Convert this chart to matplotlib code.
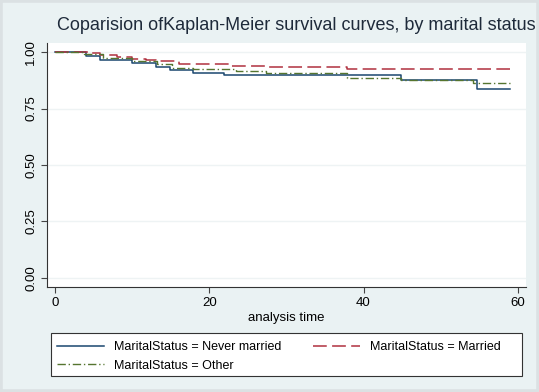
import matplotlib
matplotlib.use("Agg")
import matplotlib.pyplot as plt
from matplotlib.patches import Rectangle

# Kaplan-Meier step curves (time, survival)
never_t = [0, 3.9, 5.8, 9.9, 13.0, 14.9, 17.9, 21.9, 44.9, 54.8, 59.0]
never_s = [1.000, 0.982, 0.965, 0.950, 0.935, 0.920, 0.906, 0.897, 0.876, 0.835, 0.835]

married_t = [0, 4.3, 5.8, 8.0, 9.9, 11.8, 13.0, 16.0, 22.7, 27.4, 37.8, 59.0]
married_s = [1.000, 0.994, 0.986, 0.978, 0.971, 0.965, 0.960, 0.946, 0.938, 0.932, 0.926, 0.926]

other_t = [0, 3.7, 6.2, 9.9, 13.2, 15.1, 17.9, 23.5, 27.4, 37.8, 44.9, 54.2, 59.0]
other_s = [1.000, 0.990, 0.975, 0.960, 0.945, 0.931, 0.926, 0.916, 0.909, 0.886, 0.876, 0.864, 0.864]

x_ticks = [0, 20, 40, 60]
y_ticks = [0.00, 0.25, 0.50, 0.75, 1.00]

W, H = 539, 392
fig = plt.figure(figsize=(W / 100, H / 100), dpi=100, facecolor="#eaf2f3")
plt.rcParams["font.family"] = ["Liberation Sans", "DejaVu Sans"]

# faint screenshot frame
fig.patches.append(Rectangle((0, 0), 1, 1, transform=fig.transFigure,
                             fill=False, edgecolor="#dbe1e3", lw=4, zorder=0))

ax = fig.add_axes([47 / W, 1 - 287 / H, (526 - 47) / W, (287 - 43) / H])
ax.set_facecolor("white")

ax.step(never_t, never_s, where="post", color="#1a476f", lw=1.1,
        label="MaritalStatus = Never married")
ax.step(married_t, married_s, where="post", color="#b0303f", lw=1.1,
        dashes=(9, 3.5), label="MaritalStatus = Married")
ax.step(other_t, other_s, where="post", color="#55752f", lw=1.0,
        dashes=(6, 2, 1, 2), label="MaritalStatus = Other")

ax.set_xlim(-1.1, 61.1)
ax.set_ylim(-0.04, 1.04)
ax.set_xticks(x_ticks)
ax.set_yticks(y_ticks)
ax.set_yticklabels(["%.2f" % v for v in y_ticks], rotation=90, va="center")
ax.tick_params(labelsize=9.5, length=4, width=0.8, color="#444444", pad=3)
for s in ["top", "right"]:
    ax.spines[s].set_visible(False)
for s in ["left", "bottom"]:
    ax.spines[s].set_color("#333333")
    ax.spines[s].set_linewidth(0.8)
ax.grid(axis="y", color="#eef3f4", lw=1.0)
ax.set_axisbelow(True)

ax.set_xlabel("analysis time", fontsize=9.5, labelpad=2)

fig.text(296 / W, 1 - 25 / H, "Coparision ofKaplan-Meier survival curves, by marital status",
         ha="center", va="center", fontsize=13, color="#1e2a3a")

# legend box drawn by hand so its width matches the original
fig.patches.append(Rectangle((51 / W, 1 - 376 / H), (522 - 51) / W, (376 - 333) / H,
                             transform=fig.transFigure, facecolor="white",
                             edgecolor="#333333", lw=0.8, zorder=1))

h, l = ax.get_legend_handles_labels()
order = [0, 2, 1]
leg = fig.legend([h[i] for i in order], [l[i] for i in order], ncol=2,
                 loc="lower left", bbox_to_anchor=(51 / W, 1 - 378 / H),
                 fontsize=9, frameon=False, handlelength=3.7,
                 handletextpad=0.8, borderpad=0.5, labelspacing=0.55,
                 columnspacing=2.6, borderaxespad=0)
leg.set_zorder(2)

fig.savefig("out.png", dpi=100, facecolor=fig.get_facecolor())
